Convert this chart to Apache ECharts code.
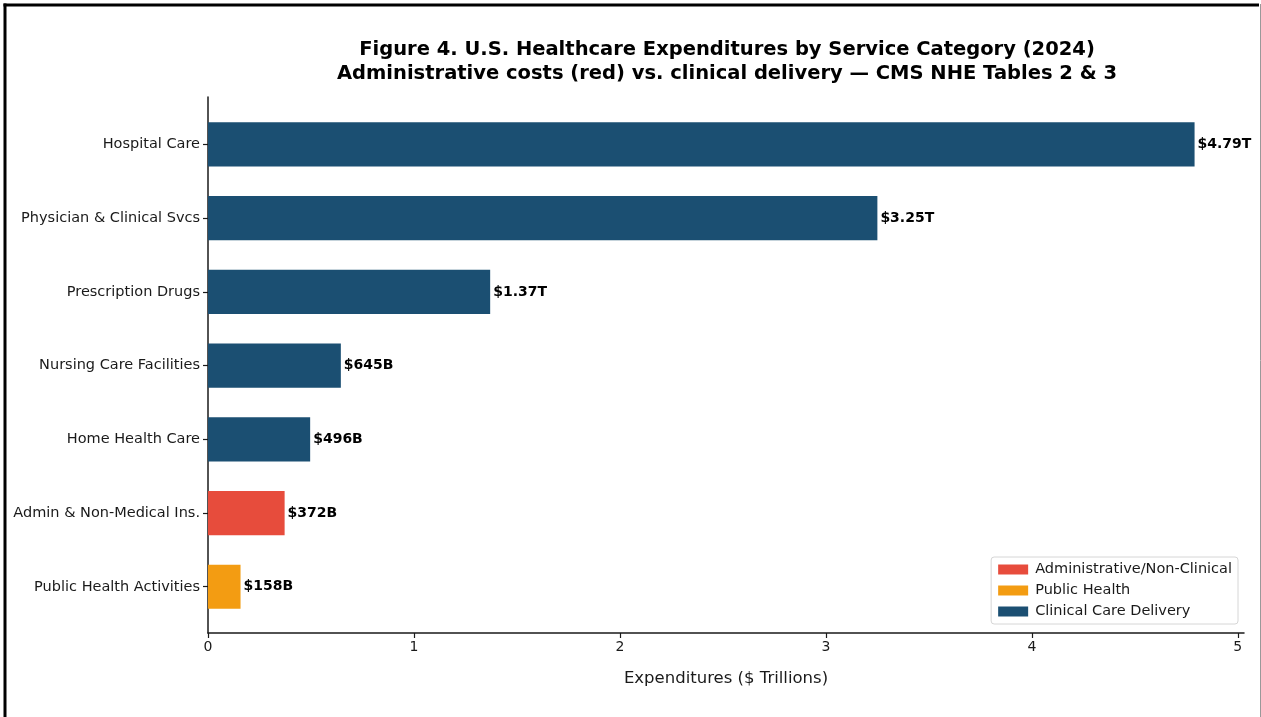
<!DOCTYPE html>
<html>
<head>
<meta charset="utf-8">
<script src="https://cdn.jsdelivr.net/npm/echarts@6/dist/echarts.min.js"></script>
<style>
  html, body { margin: 0; padding: 0; background: #fff; }
  #chart { width: 1261px; height: 717px; }
</style>
</head>
<body>
<div id="chart"></div>
<script>
// Service categories, top to bottom
const categories = [
  'Hospital Care',
  'Physician & Clinical Svcs',
  'Prescription Drugs',
  'Nursing Care Facilities',
  'Home Health Care',
  'Admin & Non-Medical Ins.',
  'Public Health Activities'
];
// Spending in $ trillions
const values = [4.79, 3.25, 1.37, 0.645, 0.496, 0.372, 0.158];
// Printed value labels
const valueLabels = ['$4.79T', '$3.25T', '$1.37T', '$645B', '$496B', '$372B', '$158B'];
// Group of each category
const groups = ['clinical', 'clinical', 'clinical', 'clinical', 'clinical', 'admin', 'public'];
const groupNames = {
  admin: 'Administrative/Non-Clinical',
  public: 'Public Health',
  clinical: 'Clinical Care Delivery'
};
const legendOrder = ['admin', 'public', 'clinical'];
const xTicks = [0, 1, 2, 3, 4, 5];

const colors = { admin: '#e74c3c', public: '#f39c12', clinical: '#1b4f72' };
const xMax = 5.03;
const font = 'DejaVu Sans';
const ink = '#1a1a1a';

const chart = echarts.init(document.getElementById('chart'));

// one series per group so the legend lists them; bars stack on the shared band
const series = legendOrder.map(g => ({
  name: groupNames[g],
  type: 'bar',
  xAxisIndex: 0,
  yAxisIndex: 0,
  stack: 'all',
  barWidth: '60%',
  itemStyle: { color: colors[g] },
  label: {
    show: true,
    position: 'right',
    distance: 3,
    fontFamily: font,
    fontWeight: 'bold',
    fontSize: 14,
    color: '#000',
    formatter: p => valueLabels[p.dataIndex]
  },
  data: values.map((v, i) => groups[i] === g ? v : null)
}));

// frame axes: full-height spine and the labelled x axis
series.push({
  type: 'line', xAxisIndex: 1, yAxisIndex: 1, data: [], silent: true
});

const option = {
  animation: false,
  backgroundColor: '#fff',
  title: {
    text: 'Figure 4. U.S. Healthcare Expenditures by Service Category (2024)\nAdministrative costs (red) vs. clinical delivery \u2014 CMS NHE Tables 2 & 3',
    left: 722,
    top: 33,
    textAlign: 'center',
    textStyle: {
      fontFamily: font,
      fontWeight: 'bold',
      fontSize: 19.5,
      lineHeight: 24,
      color: '#000'
    }
  },
  legend: {
    data: legendOrder.map(g => groupNames[g]),
    orient: 'vertical',
    right: 23,
    top: 557,
    itemWidth: 30,
    itemHeight: 10,
    itemGap: 6,
    padding: [5, 6, 5, 7],
    borderColor: '#d6d6d6',
    borderWidth: 1,
    borderRadius: 3,
    backgroundColor: 'rgba(255,255,255,0.85)',
    icon: 'rect',
    textStyle: { fontFamily: font, fontSize: 14.5, color: ink, padding: [0, 0, 0, 2] }
  },
  grid: [
    { left: 208, right: 17, top: 107.6, height: 516, containLabel: false },
    { left: 208, right: 17, top: 97, bottom: 84, containLabel: false }
  ],
  xAxis: [
    {
      gridIndex: 0, type: 'value', min: 0, max: xMax,
      show: false
    },
    {
      gridIndex: 1, type: 'value', min: 0, max: xMax,
      name: 'Expenditures ($ Trillions)',
      nameLocation: 'middle',
      nameGap: 37,
      nameTextStyle: { fontFamily: font, fontSize: 16.5, color: ink },
      axisLine: { show: true, lineStyle: { color: ink, width: 1.5 } },
      axisTick: { show: true, customValues: xTicks, length: 5, lineStyle: { color: ink, width: 1.2 } },
      axisLabel: {
        customValues: xTicks,
        fontFamily: font, fontSize: 14, color: ink, margin: 7
      },
      splitLine: { show: false }
    }
  ],
  yAxis: [
    {
      gridIndex: 0, type: 'category', inverse: true, data: categories,
      axisLine: { show: false },
      axisTick: { show: true, alignWithLabel: true, length: 5, lineStyle: { color: ink, width: 1.2 } },
      axisLabel: { fontFamily: font, fontSize: 14.5, color: ink, margin: 8 }
    },
    {
      gridIndex: 1, type: 'value', min: 0, max: 1,
      axisLine: { show: true, lineStyle: { color: ink, width: 1.5 } },
      axisTick: { show: false },
      axisLabel: { show: false },
      splitLine: { show: false }
    }
  ],
  graphic: [
    { type: 'line', shape: { x1: 3.5, y1: 5, x2: 1259, y2: 5 }, style: { stroke: '#000', lineWidth: 3 }, silent: true },
    { type: 'line', shape: { x1: 5, y1: 3.5, x2: 5, y2: 717 }, style: { stroke: '#000', lineWidth: 3 }, silent: true },
    { type: 'line', shape: { x1: 1260.5, y1: 4, x2: 1260.5, y2: 717 }, style: { stroke: '#999', lineWidth: 1 }, silent: true }
  ],
  series: series
};

chart.setOption(option);
</script>
</body>
</html>
